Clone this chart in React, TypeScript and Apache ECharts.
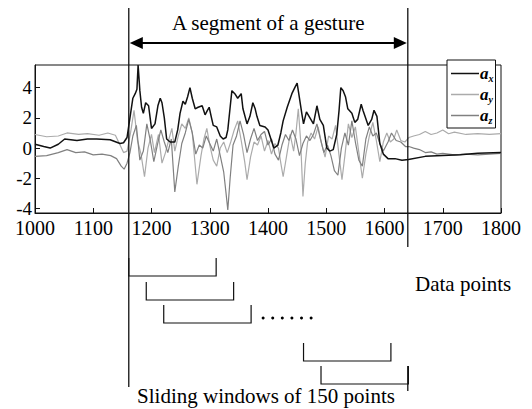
import React, { useEffect, useRef } from "react";
import * as echarts from "echarts";

// ---- data ----
const axX: number[] = [1000, 1015, 1026, 1040, 1051, 1072, 1090, 1106, 1129, 1146, 1152, 1158, 1163, 1168, 1172, 1175, 1177, 1180, 1183, 1186, 1190, 1195, 1200, 1206, 1211, 1215, 1218, 1222, 1226, 1232, 1240, 1245, 1249, 1254, 1258, 1262, 1266, 1270, 1275, 1280, 1287, 1292, 1296, 1299, 1303, 1306, 1312, 1318, 1323, 1328, 1331, 1335, 1338, 1343, 1348, 1352, 1354, 1357, 1364, 1369, 1374, 1378, 1381, 1386, 1395, 1400, 1405, 1410, 1417, 1422, 1426, 1433, 1441, 1446, 1450, 1454, 1458, 1461, 1466, 1472, 1478, 1484, 1489, 1495, 1501, 1506, 1512, 1518, 1522, 1525, 1529, 1533, 1537, 1544, 1549, 1554, 1560, 1563, 1572, 1578, 1582, 1587, 1592, 1598, 1606, 1618, 1630, 1641, 1670, 1700, 1730, 1760, 1800];
const axY: number[] = [0.25, 0.1, 0.0, 0.25, 0.6, 0.5, 0.6, 0.6, 0.55, 0.3, 0.35, 0.7, 2.0, 3.3, 3.6, 3.9, 5.5, 3.8, 2.7, 2.3, 3.0, 2.8, 1.3, 1.6, 2.8, 3.3, 3.0, 2.0, 0.6, 0.4, 0.4, 1.2, 2.3, 3.1, 2.9, 3.4, 4.0, 3.3, 2.6, 2.7, 2.8, 2.2, 2.5, 2.7, 2.0, 1.5, 1.4, 0.8, 0.6, 0.7, 1.2, 2.7, 3.8, 3.6, 3.3, 3.5, 3.6, 2.6, 1.6, 2.1, 3.0, 2.6, 2.1, 1.5, 1.4, 1.2, 0.6, 0.0, 0.2, 1.0, 1.8, 2.7, 3.6, 4.0, 4.3, 3.3, 2.3, 1.6, 2.4, 2.0, 1.6, 2.8, 1.9, 1.5, 0.0, -0.2, -0.1, 0.9, 2.5, 4.0, 3.8, 3.4, 2.6, 2.3, 1.7, 1.9, 2.9, 2.5, 1.5, 1.9, 2.5, 2.1, 0.3, -0.4, -0.7, -0.7, -0.8, -0.75, -0.55, -0.5, -0.45, -0.35, -0.3];

const ayX: number[] = [1000, 1020, 1040, 1055, 1075, 1090, 1110, 1125, 1138, 1146, 1152, 1158, 1164, 1170, 1176, 1182, 1188, 1194, 1200, 1205, 1212, 1218, 1224, 1230, 1235, 1240, 1246, 1252, 1258, 1264, 1270, 1278, 1285, 1290, 1295, 1300, 1306, 1312, 1318, 1324, 1330, 1336, 1342, 1348, 1354, 1360, 1364, 1370, 1376, 1382, 1388, 1394, 1400, 1406, 1412, 1418, 1422, 1426, 1432, 1438, 1444, 1448, 1452, 1456, 1460, 1464, 1468, 1474, 1480, 1486, 1492, 1498, 1504, 1510, 1516, 1522, 1527, 1532, 1538, 1544, 1550, 1556, 1562, 1568, 1574, 1580, 1586, 1592, 1598, 1604, 1610, 1616, 1621, 1628, 1635, 1642, 1650, 1660, 1670, 1680, 1690, 1700, 1710, 1720, 1740, 1760, 1780, 1800];
const ayY: number[] = [0.9, 0.75, 0.8, 1.0, 0.9, 0.95, 0.85, 1.0, 0.85, 0.2, -0.3, -0.2, 1.0, 2.5, 0.5, -0.4, -1.9, 0.0, 0.9, -0.3, 0.9, -1.0, -0.3, 0.6, 1.3, -0.2, 0.8, 1.6, 1.3, 2.0, 1.0, -2.4, -0.5, 0.6, 1.3, 0.2, -0.8, -1.2, 0.0, 0.4, -0.3, 0.4, 1.2, 1.8, 0.5, -0.9, -2.1, -0.6, 0.4, 0.2, 0.8, -0.2, 0.5, -0.4, 0.3, 0.0, -1.0, -1.9, -0.5, 0.9, -0.2, 1.0, 2.6, 0.5, -3.2, -1.0, 0.4, 1.0, 0.6, 1.4, 0.3, -0.6, 0.8, 0.6, 1.5, -0.5, -2.1, -0.5, 1.6, 0.7, 1.4, -0.3, -2.0, -0.4, 0.8, 1.7, 0.5, -0.9, 0.4, 1.0, 0.4, 0.6, 1.2, 0.5, 0.4, 0.7, 0.8, 0.9, 1.1, 0.9, 1.0, 1.2, 0.95, 1.05, 0.9, 0.95, 0.9, 0.95];

const azX: number[] = [1000, 1020, 1040, 1055, 1070, 1085, 1100, 1115, 1130, 1140, 1148, 1153, 1158, 1163, 1168, 1174, 1180, 1186, 1192, 1198, 1204, 1210, 1216, 1222, 1228, 1234, 1240, 1246, 1252, 1258, 1264, 1270, 1276, 1282, 1288, 1294, 1300, 1306, 1312, 1318, 1324, 1328, 1331, 1335, 1340, 1346, 1352, 1358, 1364, 1370, 1376, 1382, 1388, 1394, 1400, 1406, 1412, 1418, 1424, 1430, 1436, 1442, 1448, 1454, 1460, 1466, 1472, 1478, 1484, 1490, 1496, 1502, 1508, 1514, 1520, 1526, 1532, 1538, 1544, 1550, 1556, 1562, 1568, 1574, 1580, 1586, 1592, 1598, 1606, 1612, 1620, 1628, 1636, 1642, 1650, 1660, 1670, 1680, 1690, 1700, 1720, 1740, 1760, 1780, 1800];
const azY: number[] = [-0.55, -0.5, -0.3, -0.1, -0.3, -0.25, -0.45, -0.4, -0.5, -0.7, -1.2, -1.4, -1.0, -0.3, 0.8, 1.5, -0.8, -0.2, 1.6, 0.5, -0.9, 0.2, 1.2, 0.4, -0.3, 0.6, -2.9, -1.2, 0.3, 1.0, 1.9, 1.0, -0.4, 0.2, 0.0, 0.8, 0.3, -0.2, 0.6, -0.5, -1.6, -3.0, -4.1, -2.0, 0.2, 0.8, 1.8, 0.9, -0.3, 0.6, 1.3, 0.5, 0.9, 1.1, 0.2, 0.6, -0.4, -0.8, 0.2, 0.9, 0.5, 1.2, 0.6, -0.5, 0.3, 0.8, 0.5, 0.9, 1.6, 0.6, -0.3, 0.2, -0.5, -1.5, -1.8, 0.0, 1.0, 0.2, 1.8, 0.4, -0.8, -1.2, 0.6, 1.4, 0.8, 1.0, 0.3, -0.2, 0.4, 1.0, 0.5, 0.4, 0.1, 0.1, 0.0, -0.1, -0.3, -0.25, -0.4, -0.35, -0.45, -0.4, -0.45, -0.4, -0.35];

const seriesNames: string[] = ["a_x", "a_y", "a_z"];
const yTickValues: number[] = [-4, -2, 0, 2, 4];
const segmentRange: number[] = [1161, 1640];
const windowSize = 150;
const windowStarts: number[] = [1161, 1191, 1221, 1461, 1491];

const FONT = "Liberation Serif";

function pairs(xs: number[], ys: number[]) {
  return xs.map((x, i) => [x, ys[i]]);
}

export default function App() {
  const ref = useRef<HTMLDivElement>(null);
  useEffect(() => {
    if (!ref.current) return;
    const chart = echarts.init(ref.current, null, { renderer: "svg" });
    const lineColors = ["#111111", "#ababab", "#808080"];
    const datas = [pairs(axX, axY), pairs(ayX, ayY), pairs(azX, azY)];
    chart.setOption({
      animation: false,
      backgroundColor: "#ffffff",
      textStyle: { fontFamily: FONT },
      grid: {
        left: 35,
        top: 65,
        right: 31,
        bottom: 196,
        show: true,
        borderColor: "#111",
        borderWidth: 1,
        backgroundColor: "transparent",
      },
      legend: {
        data: seriesNames,
        left: 447,
        top: 60,
        orient: "vertical",
        backgroundColor: "#ffffff",
        borderColor: "#111",
        borderWidth: 1,
        padding: [5, 2, 3, 4],
        itemWidth: 28,
        itemHeight: 1.5,
        itemGap: 3,
        icon: "rect",
        selectedMode: false,
        formatter: (name: string) => `{a|a}{s|${name.slice(2)}}`,
        textStyle: {
          fontFamily: FONT,
          color: "#000",
          padding: [0, 0, 0, -4],
          rich: {
            a: { fontFamily: FONT, fontSize: 17, fontWeight: "bold", fontStyle: "italic", color: "#000000" },
            s: { fontFamily: FONT, fontSize: 10, fontWeight: "bold", fontStyle: "italic", color: "#000000", padding: [9, 0, 0, 0] },
          },
        },
      },
      xAxis: {
        type: "value",
        min: 1000,
        max: 1800,
        interval: 100,
        axisLine: { show: true, onZero: false, lineStyle: { color: "#111" } },
        axisTick: { show: true, inside: true, length: 5, lineStyle: { color: "#111" } },
        axisLabel: { color: "#000", fontSize: 20, lineHeight: 18, fontFamily: FONT, margin: 6, formatter: (v: number) => String(v) },
        splitLine: { show: false },
      },
      yAxis: {
        type: "value",
        min: -4.3,
        max: 5.5,
        axisLine: { show: true, lineStyle: { color: "#111" } },
        axisTick: { show: true, inside: true, length: 5, customValues: yTickValues, lineStyle: { color: "#111" } },
        axisLabel: { color: "#000", fontSize: 19, lineHeight: 14, fontFamily: FONT, margin: 3, customValues: yTickValues, formatter: (v: number) => String(v) },
        splitLine: { show: false },
      },
      series: seriesNames.map((name, i) => ({
        name,
        type: "line",
        data: datas[i],
        symbol: "none",
        z: i === 0 ? 5 : 3,
        lineStyle: { color: lineColors[i], width: i === 0 ? 1.5 : 1.2 },
        itemStyle: { color: lineColors[i] },
      })),
    });

    const px = (v: number) => chart.convertToPixel({ xAxisIndex: 0 }, v) as number;
    const xs = px(segmentRange[0]);
    const xe = px(segmentRange[1]);
    const stroke = { stroke: "#111", lineWidth: 1.3 };
    const rowTops = [258, 282, 305, 343, 366];
    const rowH = 18;
    const textFont = `21px "${FONT}"`;
    const graphics: any[] = [
      { type: "line", shape: { x1: xs, y1: 8, x2: xs, y2: 387 }, style: stroke, z: 100 },
      { type: "line", shape: { x1: xe, y1: 8, x2: xe, y2: 247 }, style: stroke, z: 100 },
      { type: "line", shape: { x1: xe, y1: 366, x2: xe, y2: 391 }, style: stroke, z: 100 },
      { type: "line", shape: { x1: xs + 10, y1: 43, x2: xe - 10, y2: 43 }, style: { stroke: "#000", lineWidth: 2.2 }, z: 100 },
      { type: "polygon", shape: { points: [[xs + 1, 43], [xs + 14, 37], [xs + 14, 49]] }, style: { fill: "#000" }, z: 100 },
      { type: "polygon", shape: { points: [[xe - 1, 43], [xe - 14, 37], [xe - 14, 49]] }, style: { fill: "#000" }, z: 100 },
      {
        type: "text",
        x: (xs + xe) / 2,
        y: 23,
        style: { text: "A segment of a gesture", font: textFont, fill: "#000", align: "center", verticalAlign: "middle" },
        z: 100,
      },
      {
        type: "text",
        x: 415,
        y: 284,
        style: { text: "Data points", font: textFont, fill: "#000", align: "left", verticalAlign: "middle" },
        z: 100,
      },
      {
        type: "text",
        x: 266,
        y: 396,
        style: { text: "Sliding windows of 150 points", font: textFont, fill: "#000", align: "center", verticalAlign: "middle" },
        z: 100,
      },
    ];
    windowStarts.forEach((w, i) => {
      const x0 = px(w);
      const x1 = px(w + windowSize);
      const t = rowTops[i];
      graphics.push({
        type: "polyline",
        shape: { points: [[x0, t], [x0, t + rowH], [x1, t + rowH], [x1, t]] },
        style: { stroke: "#111", lineWidth: 1.2, fill: null },
        z: 100,
      });
    });
    const dotStart = px(windowStarts[2] + windowSize) + 12;
    for (let k = 0; k < 6; k++) {
      graphics.push({
        type: "circle",
        shape: { cx: dotStart + k * 9.6, cy: 318, r: 1.5 },
        style: { fill: "#000" },
        z: 100,
      });
    }
    chart.setOption({ graphic: graphics });

    return () => chart.dispose();
  }, []);
  return <div ref={ref} style={{ width: 532, height: 409, position: "absolute", left: 0, top: 0 }} />;
}
